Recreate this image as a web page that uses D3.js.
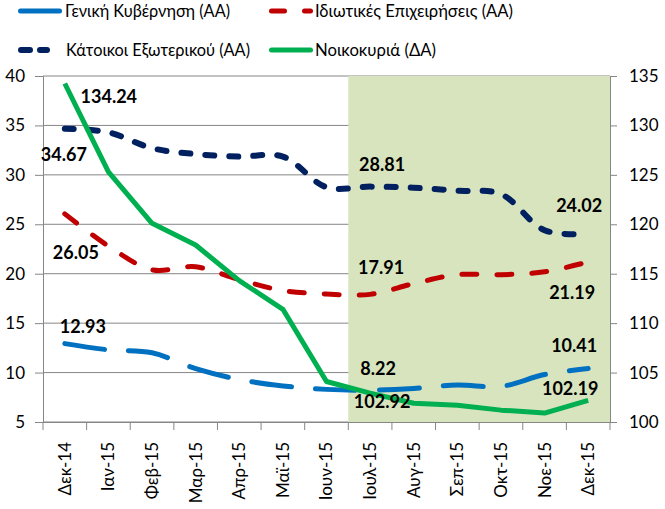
<!DOCTYPE html>
<html>
<head>
<meta charset="utf-8">
<script src="https://cdn.jsdelivr.net/npm/d3@7"></script>
<style>
  body { margin: 0; background: #fff; }
  svg { display: block; font-family: Lato, "Open Sans", sans-serif; }
</style>
</head>
<body>
<svg id="chart" width="665" height="509"></svg>
<script>
// months on the x axis
var months = ["Δεκ-14", "Ιαν-15", "Φεβ-15", "Μαρ-15", "Απρ-15", "Μαϊ-15", "Ιουν-15",
              "Ιουλ-15", "Αυγ-15", "Σεπ-15", "Οκτ-15", "Νοε-15", "Δεκ-15"];
// left axis series
var geniki = [12.93, 12.3, 12.0, 10.4, 9.3, 8.65, 8.3, 8.22, 8.4, 8.75, 8.6, 9.8, 10.41];
var idiotikes = [26.05, 22.8, 20.4, 20.7, 19.4, 18.3, 17.95, 17.91, 19.0, 19.9, 19.9, 20.2, 21.19];
var katoikoi = [34.67, 34.3, 32.7, 32.1, 31.85, 31.85, 28.75, 28.81, 28.7, 28.4, 28.05, 24.4, 24.02];
// right axis series
var noikokyria = [134.24, 125.3, 120.1, 117.9, 114.3, 111.4, 104.1, 102.92, 101.9, 101.7, 101.2, 100.9, 102.19];
// tick values
var leftTicks = [5, 10, 15, 20, 25, 30, 35, 40];
var rightTicks = [100, 105, 110, 115, 120, 125, 130, 135];
// shaded period starts here
var shadeFrom = "Ιουλ-15";

var svg = d3.select("#chart");

var x = d3.scaleBand().domain(months).range([43, 610]);
var yL = d3.scaleLinear().domain([5, 40]).range([422, 76]);
var yR = d3.scaleLinear().domain([100, 135]).range([422, 76]);
var cx = function (m) { return x(m) + x.bandwidth() / 2; };

var grey = "#868686";

// gridlines
svg.append("g")
  .selectAll("line")
  .data(leftTicks)
  .enter()
  .append("line")
  .attr("x1", 43).attr("x2", 610)
  .attr("y1", function (d) { return yL(d); })
  .attr("y2", function (d) { return yL(d); })
  .attr("stroke", grey)
  .attr("stroke-width", 1);

// shaded area (second half of 2015)
svg.append("rect")
  .attr("x", x(shadeFrom))
  .attr("y", yL(40))
  .attr("width", 610 - x(shadeFrom))
  .attr("height", yL(5) - yL(40))
  .attr("fill", "#d7e4bd");

// axes
var axisL = svg.append("g").attr("transform", "translate(43,0)")
  .call(d3.axisLeft(yL).tickValues(leftTicks).tickSize(8).tickPadding(10));
var axisR = svg.append("g").attr("transform", "translate(610,0)")
  .call(d3.axisRight(yR).tickValues(rightTicks).tickSize(7).tickPadding(12));
var axisX = svg.append("g").attr("transform", "translate(0,422)")
  .call(d3.axisBottom(x).tickSize(0).tickPadding(0));

[axisL, axisR, axisX].forEach(function (a) {
  a.select(".domain").attr("stroke", grey);
  a.selectAll(".tick line").attr("stroke", grey);
  a.selectAll("text").attr("fill", "#000").style("font-size", "17px").style("font-family", "Lato, sans-serif");
});

// x tick marks on the band edges
svg.append("g")
  .selectAll("line")
  .data(months.concat(["end"]))
  .enter()
  .append("line")
  .attr("x1", function (d, i) { return i < months.length ? x(d) : 610; })
  .attr("x2", function (d, i) { return i < months.length ? x(d) : 610; })
  .attr("y1", 422).attr("y2", 430)
  .attr("stroke", grey);

// rotated month labels
axisX.selectAll(".tick text")
  .attr("transform", "rotate(-90)")
  .attr("x", -20)
  .attr("y", 0)
  .attr("dy", "0.35em")
  .attr("text-anchor", "end");

// series lines
var series = [
  { name: "Γενική Κυβέρνηση (ΑΑ)", values: geniki, scale: yL, color: "#0070c0", dash: "40,24", width: 5, curve: d3.curveCatmullRom },
  { name: "Ιδιωτικές Επιχειρήσεις (ΑΑ)", values: idiotikes, scale: yL, color: "#c00000", dash: "15,20", width: 5, curve: d3.curveCatmullRom },
  { name: "Κάτοικοι Εξωτερικού (ΑΑ)", values: katoikoi, scale: yL, color: "#002060", dash: "9,15", width: 6, curve: d3.curveCatmullRom },
  { name: "Νοικοκυριά (ΔΑ)", values: noikokyria, scale: yR, color: "#00b050", dash: null, width: 5, curve: d3.curveLinear }
];

series.forEach(function (s) {
  var line = d3.line()
    .x(function (d, i) { return cx(months[i]); })
    .y(function (d) { return s.scale(d); })
    .curve(s.curve);
  svg.append("path")
    .datum(s.values)
    .attr("d", line)
    .attr("fill", "none")
    .attr("stroke", s.color)
    .attr("stroke-width", s.width)
    .attr("stroke-linecap", s.dash ? "round" : "butt")
    .attr("stroke-linejoin", "round")
    .attr("stroke-dasharray", s.dash);
});

// data labels: series index, point index, offset
var labels = [
  { s: 3, i: 0, dx: 44, dy: 13 },
  { s: 2, i: 0, dx: -1, dy: 26 },
  { s: 1, i: 0, dx: 11, dy: 39 },
  { s: 0, i: 0, dx: 18, dy: -17 },
  { s: 2, i: 7, dx: 12, dy: -22 },
  { s: 2, i: 12, dx: -9, dy: -28 },
  { s: 1, i: 7, dx: 11, dy: -27 },
  { s: 1, i: 12, dx: -16, dy: 31 },
  { s: 0, i: 12, dx: -14, dy: -23 },
  { s: 0, i: 7, dx: 8, dy: -21 },
  { s: 3, i: 7, dx: 12, dy: 9 },
  { s: 3, i: 12, dx: -18, dy: -12 }
];

svg.append("g")
  .selectAll("text")
  .data(labels)
  .enter()
  .append("text")
  .attr("x", function (d) { return cx(months[d.i]) + d.dx; })
  .attr("y", function (d) { return series[d.s].scale(series[d.s].values[d.i]) + d.dy; })
  .attr("text-anchor", "middle")
  .attr("dy", "0.35em")
  .style("font-size", "18px")
  .style("font-weight", "bold")
  .text(function (d) { return series[d.s].values[d.i].toFixed(2); });

// legend
var legendPos = [
  { x: 18, y: 11, tx: 65, tw: 165 },
  { x: 269, y: 11, tx: 315, tw: 198 },
  { x: 18, y: 50, tx: 66, tw: 184 },
  { x: 269, y: 50, tx: 315, tw: 121 }
];
var legendDash = [null, "13,20", "9,10,7,13,0.1,30", null];
var legend = svg.append("g")
  .selectAll("g")
  .data(series)
  .enter()
  .append("g")
  .attr("transform", function (d, i) { return "translate(" + legendPos[i].x + "," + legendPos[i].y + ")"; });

legend.append("line")
  .attr("x1", function (d) { return d.width / 2; })
  .attr("x2", function (d, i) { return i === 2 ? 42 : 44 - d.width / 2; })
  .attr("stroke", function (d) { return d.color; })
  .attr("stroke-width", function (d) { return d.width; })
  .attr("stroke-linecap", "round")
  .attr("stroke-dasharray", function (d, i) { return legendDash[i]; });

legend.append("text")
  .attr("x", function (d, i) { return legendPos[i].tx - legendPos[i].x; })
  .attr("dy", "0.35em")
  .attr("textLength", function (d, i) { return legendPos[i].tw; })
  .attr("lengthAdjust", "spacingAndGlyphs")
  .style("font-size", "18px")
  .text(function (d) { return d.name; });
</script>
</body>
</html>
